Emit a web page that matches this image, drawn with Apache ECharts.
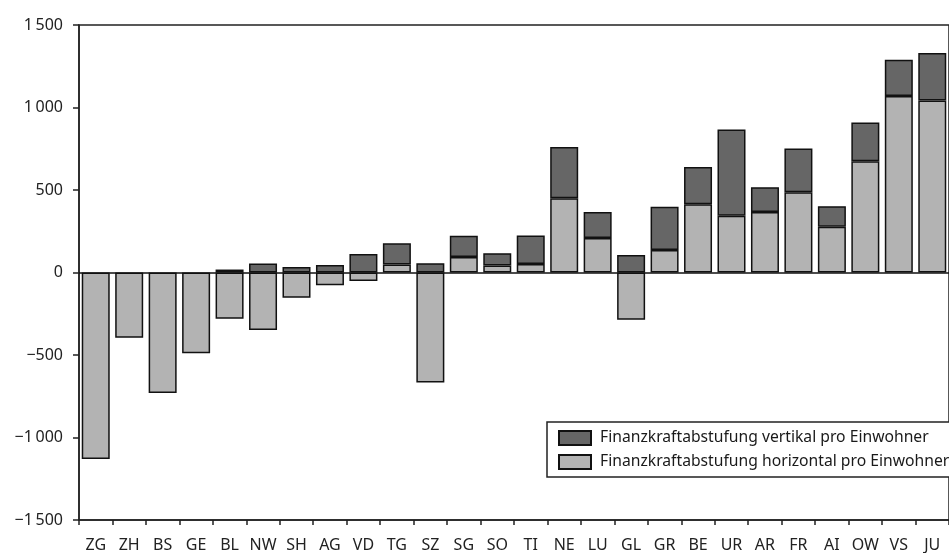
<!DOCTYPE html>
<html>
<head>
<meta charset="utf-8">
<script src="https://cdn.jsdelivr.net/npm/echarts@6/dist/echarts.min.js"></script>
<style>
  html, body { margin: 0; padding: 0; background: #fff; }
  #chart { width: 949px; height: 553px; }
</style>
</head>
<body>
<div id="chart"></div>
<script>
const cantons = ["ZG", "ZH", "BS", "GE", "BL", "NW", "SH", "AG", "VD", "TG", "SZ", "SG", "SO",
  "TI", "NE", "LU", "GL", "GR", "BE", "UR", "AR", "FR", "AI", "OW", "VS", "JU"];
const horizontal = [-1130, -395, -730, -490, -280, -348, -153, -78, -52, 48, -666, 94, 42,
  52, 450, 209, -286, 137, 414, 344, 366, 487, 278, 674, 1070, 1042];
// no vertical part for the first four cantons
const vertical = [null, null, null, null, 18, 54, 34, 46, 112, 129, 56, 129, 75,
  173, 310, 157, 106, 261, 226, 523, 151, 265, 124, 235, 219, 289];
const nameV = "Finanzkraftabstufung vertikal pro Einwohner";
const nameH = "Finanzkraftabstufung horizontal pro Einwohner";

const fontFamily = "Noto Sans";
const chart = echarts.init(document.getElementById("chart"));

const fmt = (v) => {
  const s = String(Math.abs(v)).replace(/\B(?=(\d{3})+(?!\d))/g, "\u2009");
  return (v < 0 ? "\u2212" : "") + s;
};

const option = {
  animation: false,
  textStyle: { fontFamily: fontFamily },
  grid: {
    left: 79,
    top: 25,
    bottom: 31,
    right: -11,
    containLabel: false,
    show: true,
    borderColor: "#222",
    borderWidth: 1.5,
  },
  legend: {
    data: [nameV, nameH],
    orient: "vertical",
    left: 547,
    top: 422,
    padding: [8, 10, 7, 11],
    itemWidth: 32,
    itemHeight: 14,
    itemGap: 8,
    icon: "rect",
    backgroundColor: "#fff",
    borderColor: "#222",
    borderWidth: 1.5,
    textStyle: { fontSize: 15.7, color: "#1a1a1a", fontFamily: fontFamily, padding: [0, 0, 0, 4] },
  },
  xAxis: {
    type: "category",
    data: cantons,
    position: "bottom",
    axisLine: { onZero: false, lineStyle: { color: "#222", width: 1.5 } },
    axisTick: { show: true, length: 5, lineStyle: { color: "#222", width: 1.5 } },
    axisLabel: { color: "#222", fontSize: 16, margin: 17, interval: 0 },
  },
  yAxis: {
    type: "value",
    min: -1500,
    max: 1500,
    interval: 500,
    axisLine: { show: true, lineStyle: { color: "#222", width: 1.5 } },
    axisTick: { show: true, length: 6, lineStyle: { color: "#222", width: 1.5 } },
    axisLabel: { color: "#222", fontSize: 16, margin: 16, formatter: fmt },
    splitLine: { show: false },
  },
  series: [
    {
      name: nameH,
      type: "bar",
      stack: "a",
      barWidth: 28,
      data: horizontal,
      itemStyle: { color: "#b3b3b3", borderColor: "#111", borderWidth: 1.5 },
      markLine: {
        silent: true,
        symbol: "none",
        label: { show: false },
        lineStyle: { color: "#111", width: 1.5, type: "solid" },
        data: [{ yAxis: 0 }],
      },
    },
    {
      name: nameV,
      type: "bar",
      stack: "a",
      barWidth: 28,
      data: vertical,
      itemStyle: { color: "#666666", borderColor: "#111", borderWidth: 1.5 },
    },
  ],
};
chart.setOption(option);
</script>
</body>
</html>
